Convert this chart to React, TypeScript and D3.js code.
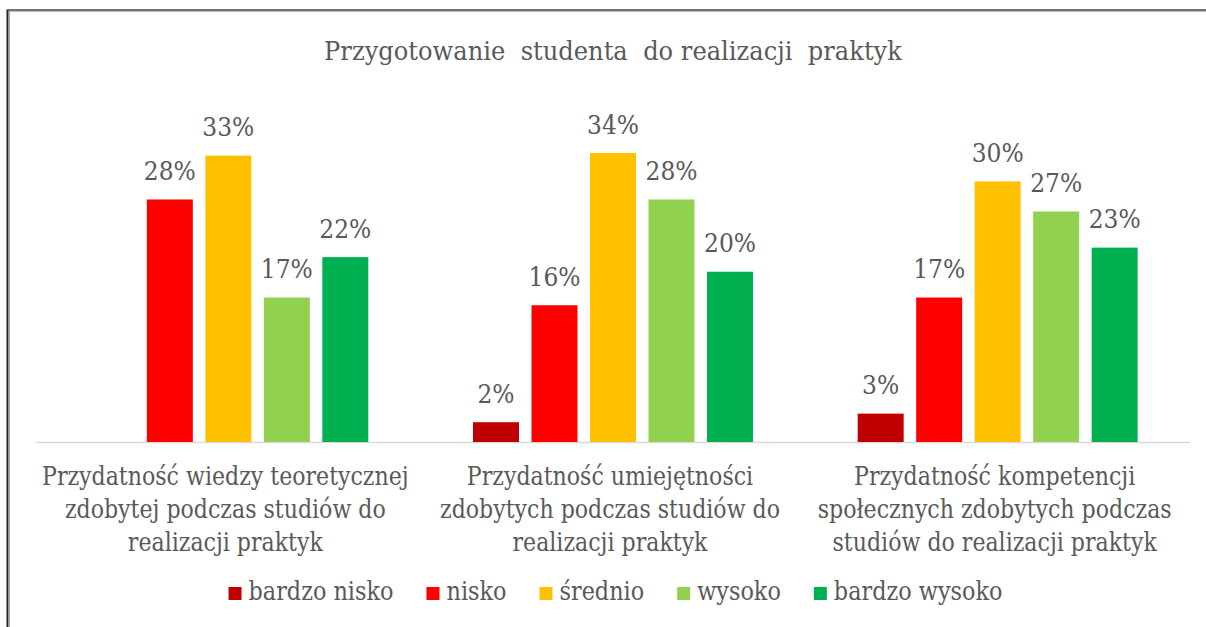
import React, { useEffect, useRef } from "react";
import * as d3 from "d3";

const TITLE = "Przygotowanie  studenta  do realizacji  praktyk";
const categories = ["wiedza", "umiejetnosci", "kompetencje"];
const categoryLines = [
  ["Przydatność wiedzy teoretycznej", "zdobytej podczas studiów do", "realizacji praktyk"],
  ["Przydatność umiejętności", "zdobytych podczas studiów do", "realizacji praktyk"],
  ["Przydatność kompetencji", "społecznych zdobytych podczas", "studiów do realizacji praktyk"],
];
const seriesNames = ["bardzo nisko", "nisko", "średnio", "wysoko", "bardzo wysoko"];
const seriesColors = ["#C00000", "#FF0000", "#FFC000", "#92D050", "#00B050"];
// values in percent, per series, across categories
const bardzoNisko = [0, 2.3, 3.3];
const nisko = [28.2, 15.9, 16.8];
const srednio = [33.3, 33.6, 30.3];
const wysoko = [16.8, 28.2, 26.8];
const bardzoWysoko = [21.5, 19.8, 22.6];
const seriesValues = [bardzoNisko, nisko, srednio, wysoko, bardzoWysoko];

const W = 1206;
const H = 627;
const FONT = '"DejaVu Serif", serif';
const TEXT = "#595959";

export default function App() {
  const ref = useRef<SVGSVGElement>(null);

  useEffect(() => {
    const svg = d3.select(ref.current);
    svg.selectAll("*").remove();

    // frame
    svg.append("line").attr("x1", 7.5).attr("x2", 7.5).attr("y1", 10).attr("y2", H).attr("stroke", "#222").attr("stroke-width", 2);
    svg.append("line").attr("x1", 9.5).attr("x2", 9.5).attr("y1", 12).attr("y2", H).attr("stroke", "#aaa").attr("stroke-width", 1);
    svg.append("line").attr("x1", 6.5).attr("x2", W).attr("y1", 10).attr("y2", 10).attr("stroke", "#444").attr("stroke-width", 1.5);
    svg.append("line").attr("x1", 9).attr("x2", W).attr("y1", 11.5).attr("y2", 11.5).attr("stroke", "#bbb").attr("stroke-width", 1);

    const x0 = d3.scaleBand<string>().domain(categories).range([36, 1190]).paddingInner(0).paddingOuter(0);
    const x1 = d3.scaleBand<string>().domain(seriesNames).range([0, x0.bandwidth()]).paddingInner(0.214).paddingOuter(0.895);
    const y = d3.scaleLinear().domain([0, 40]).range([442, 98]);

    // condensed serif text: a group scaled horizontally around x
    const ctext = (parent: any, x: number, size: number, sx: number, anchor: string) => {
      const g = parent.append("g").attr("transform", `translate(${x},0) scale(${sx},1)`);
      return g.append("text").attr("x", 0).attr("text-anchor", anchor)
        .attr("font-family", FONT).attr("font-size", size).attr("fill", TEXT);
    };

    // title
    ctext(svg, 613, 26, 0.93, "middle").attr("y", 60).style("white-space", "pre").text(TITLE);

    // axis line
    svg.append("line").attr("x1", 36).attr("x2", 1190).attr("y1", y(0) + 0.5).attr("y2", y(0) + 0.5)
      .attr("stroke", "#D9D9D9").attr("stroke-width", 1.5);

    // bars
    categories.forEach((c, ci) => {
      const g = svg.append("g").attr("transform", `translate(${x0(c)},0)`);
      seriesNames.forEach((s, si) => {
        const v = seriesValues[si][ci];
        if (!v) return;
        g.append("rect").attr("x", x1(s)!).attr("width", x1.bandwidth())
          .attr("y", y(v)).attr("height", y(0) - y(v)).attr("fill", seriesColors[si]);
        ctext(g, x1(s)! + x1.bandwidth() / 2, 26, 0.9, "middle")
          .attr("y", y(v) - 19.5).text(`${Math.round(v)}%`);
      });
      // category label
      const t = ctext(svg, x0(c)! + x0.bandwidth() / 2 - 3, 26, 0.85, "middle");
      categoryLines[ci].forEach((line, li) => {
        t.append("tspan").attr("x", 0).attr("y", 485 + li * 33).text(line);
      });
    });

    // legend
    const leg = svg.append("g");
    let cx = 0;
    const LSX = 0.86;
    seriesNames.forEach((s, si) => {
      const item = leg.append("g").attr("transform", `translate(${cx},0)`);
      item.append("rect").attr("x", 0).attr("y", 587).attr("width", 13).attr("height", 13).attr("fill", seriesColors[si]);
      const tx = ctext(item, 20, 26, LSX, "start").attr("y", 600).text(s);
      const w = (tx.node() as SVGTextElement).getComputedTextLength() * LSX;
      cx += 20 + w + 33;
    });
    const total = cx - 33;
    leg.attr("transform", `translate(${615.5 - total / 2},0)`);
  }, []);

  return (
    <svg ref={ref} width={W} height={H} style={{ position: "absolute", left: 0, top: 0, background: "#fff" }} />
  );
}
